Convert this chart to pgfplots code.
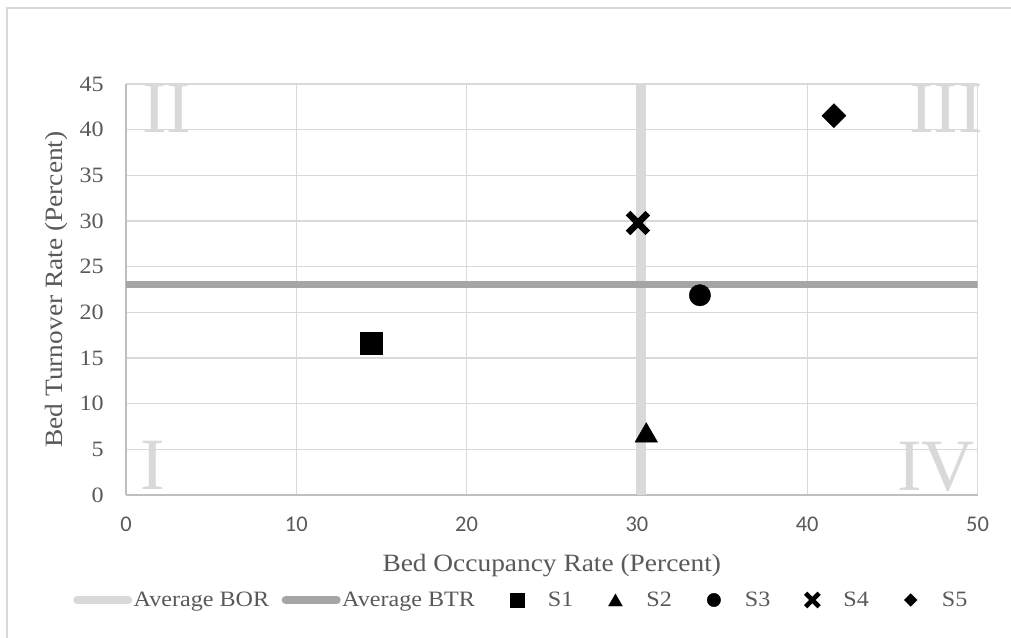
\documentclass[border=0pt]{standalone}
\usepackage{pgfplots}
\pgfplotsset{compat=1.18}
\usepackage{fontspec}
\setmainfont{Liberation Serif}[FakeStretch=1.1]
\newfontfamily\carlito{Carlito}
\newfontfamily\quadfont{Liberation Serif}
\definecolor{txt}{HTML}{595959}
\definecolor{gridc}{HTML}{D9D9D9}
\definecolor{axc}{HTML}{BFBFBF}
\definecolor{bor}{HTML}{D9D9D9}
\definecolor{btr}{HTML}{A5A5A5}
\definecolor{quad}{HTML}{D9D9D9}

\begin{document}
\begin{tikzpicture}[x=1bp,y=1bp]
\useasboundingbox (0,0) rectangle (1011,638);
\fill[white] (0,0) rectangle (1011,638);
\draw[gridc, line width=1.3bp] (7,-20) -- (7,630) -- (1030,630);
\begin{axis}[
  at={(126bp,143bp)}, anchor=south west,
  scale only axis, width=851.5bp, height=411bp,
  xmin=0, xmax=50, ymin=0, ymax=45,
  xtick={0,10,...,50}, ytick={0,5,...,45},
  major tick length=0pt,
  grid=major,
  major grid style={gridc, line width=1.2bp},
  axis x line*=bottom, axis y line*=left,
  axis line style={-, axc, line width=1.2bp},
  /pgf/number format/assume math mode=true,
  xticklabel style={font=\carlito\fontsize{22.5}{27}\selectfont, text=txt, inner sep=0pt, anchor=north, yshift=-22bp},
  yticklabel style={font=\fontsize{22}{26}\selectfont, text=txt, inner sep=0pt, anchor=east, xshift=-22bp},
  xlabel={Bed Occupancy Rate (Percent)},
  ylabel={Bed Turnover Rate (Percent)},
  xlabel style={font=\fontsize{25}{30}\selectfont, text=txt, at={(axis description cs:0.5,-0.1715)}, anchor=center, inner sep=0pt},
  ylabel style={font=\fontsize{25}{30}\selectfont, text=txt, at={(axis description cs:-0.0816,0.5)}, anchor=center, rotate=0, inner sep=0pt},
  legend columns=7,
  legend cell align=left,
  legend style={at={(axis description cs:-0.0622,-0.2555)}, anchor=west, draw=none, fill=none, inner sep=0pt,
    font=\fontsize{22}{26}\selectfont, text=txt,
    nodes={inner sep=1.5bp},
    /tikz/every even column/.append style={column sep=11bp}},
]
\addplot[bor, line width=9.5bp, forget plot] coordinates {(30.27,0) (30.27,45)};
\addplot[btr, line width=7bp, forget plot] coordinates {(0,23.05) (50,23.05)};
\addplot[only marks, mark=square*, mark size=11bp, black, forget plot] coordinates {(14.39,16.64)};
\addplot[only marks, mark=triangle*, mark size=13bp, black, forget plot] coordinates {(30.55,6.5)};
\addplot[only marks, mark=*, mark size=10.7bp, black, forget plot] coordinates {(33.7,21.87)};
\addplot[only marks, mark=x, mark size=14bp, black, line width=6.5bp, mark options={line width=6.5bp}, forget plot] coordinates {(30.06,29.78)};
\addplot[only marks, mark=square*, mark size=8.5bp, mark options={rotate=45}, black, forget plot] coordinates {(41.57,41.53)};

\addlegendimage{legend image code/.code={\path[draw=none,fill=none] (0bp,-7bp) rectangle (59bp,7bp); \draw[bor, line width=8bp, line cap=round] (4bp,0bp) -- (55bp,0bp);}}
\addlegendentry{Average BOR}
\addlegendimage{legend image code/.code={\path[draw=none,fill=none] (0bp,-7bp) rectangle (59bp,7bp); \draw[btr, line width=8bp, line cap=round] (4bp,0bp) -- (55bp,0bp);}}
\addlegendentry{Average BTR}
\addlegendimage{legend image code/.code={\path[draw=none,fill=none] (0bp,-7bp) rectangle (59bp,7bp); \draw[black] plot[only marks, mark=square*, mark size=7bp] coordinates {(29.5bp,0bp)};}}
\addlegendentry{S1}
\addlegendimage{legend image code/.code={\path[draw=none,fill=none] (0bp,-7bp) rectangle (59bp,7bp); \draw[black] plot[only marks, mark=triangle*, mark size=8bp] coordinates {(29.5bp,-2bp)};}}
\addlegendentry{S2}
\addlegendimage{legend image code/.code={\path[draw=none,fill=none] (0bp,-7bp) rectangle (59bp,7bp); \draw[black] plot[only marks, mark=*, mark size=6.7bp] coordinates {(29.5bp,0bp)};}}
\addlegendentry{S3}
\addlegendimage{legend image code/.code={\path[draw=none,fill=none] (0bp,-7bp) rectangle (59bp,7bp); \draw[black, line width=4.5bp] plot[only marks, mark=x, mark size=9.5bp, mark options={line width=4.5bp}] coordinates {(29.5bp,0bp)};}}
\addlegendentry{S4}
\addlegendimage{legend image code/.code={\path[draw=none,fill=none] (0bp,-7bp) rectangle (59bp,7bp); \draw[black] plot[only marks, mark=square*, mark size=4.5bp, mark options={rotate=45}] coordinates {(29.5bp,0bp)};}}
\addlegendentry{S5}
\end{axis}
\node[anchor=north west, inner sep=0pt, text=quad, font=\quadfont\fontsize{74}{80}\selectfont] at (142,554) {II};
\node[anchor=north east, inner sep=0pt, text=quad, font=\quadfont\fontsize{74}{80}\selectfont] at (983,554) {III};
\node[anchor=south west, inner sep=0pt, text=quad, font=\quadfont\fontsize{74}{80}\selectfont] at (140,148) {I};
\node[anchor=south east, inner sep=0pt, text=quad, font=\quadfont\fontsize{74}{80}\selectfont] at (975,146) {IV};
\end{tikzpicture}
\end{document}
